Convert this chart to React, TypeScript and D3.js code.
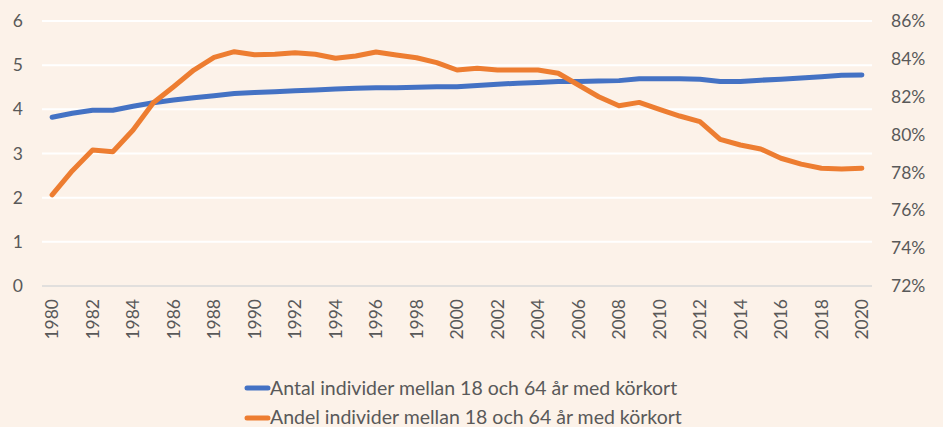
import React from "react";
import * as d3 from "d3";

const years: number[] = d3.range(1980, 2021);
const antal: number[] = [
  3.82, 3.91, 3.98, 3.98, 4.07, 4.15, 4.21, 4.26, 4.31, 4.36,
  4.38, 4.40, 4.42, 4.44, 4.46, 4.48, 4.49, 4.49, 4.50, 4.51,
  4.51, 4.54, 4.57, 4.59, 4.61, 4.63, 4.63, 4.64, 4.65, 4.69,
  4.69, 4.69, 4.68, 4.63, 4.63, 4.66, 4.68, 4.71, 4.74, 4.77, 4.78,
];
const andel: number[] = [
  76.81, 78.09, 79.18, 79.09, 80.24, 81.68, 82.53, 83.41, 84.08, 84.38,
  84.22, 84.24, 84.32, 84.24, 84.03, 84.15, 84.36, 84.20, 84.06, 83.80,
  83.41, 83.50, 83.41, 83.41, 83.41, 83.24, 82.62, 82.00, 81.52, 81.70,
  81.33, 80.98, 80.68, 79.75, 79.45, 79.24, 78.75, 78.44, 78.22, 78.18, 78.22,
];
const leftTicks: number[] = [0, 1, 2, 3, 4, 5, 6];
const rightTicks: number[] = [72, 74, 76, 78, 80, 82, 84, 86];
const seriesNames: string[] = [
  "Antal individer mellan 18 och 64 år med körkort",
  "Andel individer mellan 18 och 64 år med körkort",
];
const seriesColors: string[] = ["#4472C4", "#ED7D31"];

const W = 943;
const H = 427;
const FONT = "Lato, 'Open Sans', sans-serif";
const TEXT = "#595959";

export default function App() {
  const x = d3.scaleBand<number>().domain(years).range([42, 872]);
  const cx = (yr: number) => (x(yr) as number) + x.bandwidth() / 2;
  const yL = d3.scaleLinear().domain([0, 6]).range([286, 21]);
  const yR = d3.scaleLinear().domain([72, 86]).range([286, 21]);

  const lineL = d3
    .line<number>()
    .x((_, i) => cx(years[i]))
    .y((d) => yL(d));
  const lineR = d3
    .line<number>()
    .x((_, i) => cx(years[i]))
    .y((d) => yR(d));

  return (
    <svg
      width={W}
      height={H}
      style={{ position: "absolute", left: 0, top: 0, display: "block" }}
      fontFamily={FONT}
    >
      <rect x={0} y={0} width={W} height={H} fill="#FCF2E9" />
      {leftTicks.slice(1).map((t) => (
        <line
          key={t}
          x1={42}
          x2={872}
          y1={yL(t)}
          y2={yL(t)}
          stroke="#ffffff"
          strokeWidth={2}
        />
      ))}
      <line x1={42} x2={872} y1={yL(0)} y2={yL(0)} stroke="#D9D9D9" strokeWidth={1.5} />
      {leftTicks.map((t) => (
        <text
          key={t}
          x={23}
          y={yL(t)}
          dy="0.35em"
          textAnchor="end"
          fontSize={17.5}
          fill={TEXT}
        >
          {t}
        </text>
      ))}
      {rightTicks.map((t) => (
        <text
          key={t}
          x={891}
          y={yR(t)}
          dy="0.35em"
          textAnchor="start"
          fontSize={17.5}
          fill={TEXT}
        >
          {t + "%"}
        </text>
      ))}
      {years
        .filter((yr) => yr % 2 === 0)
        .map((yr) => (
          <text
            key={yr}
            transform={`translate(${cx(yr)},299) rotate(-90)`}
            dy="0.35em"
            textAnchor="end"
            fontSize={17.5}
            fill={TEXT}
          >
            {yr}
          </text>
        ))}
      <path
        d={lineL(antal) || ""}
        fill="none"
        stroke={seriesColors[0]}
        strokeWidth={5}
        strokeLinecap="round"
        strokeLinejoin="round"
      />
      <path
        d={lineR(andel) || ""}
        fill="none"
        stroke={seriesColors[1]}
        strokeWidth={5}
        strokeLinecap="round"
        strokeLinejoin="round"
      />
      {seriesNames.map((name, i) => (
        <g key={name}>
          <line
            x1={247}
            x2={268}
            y1={388 + i * 30}
            y2={388 + i * 30}
            stroke={seriesColors[i]}
            strokeWidth={5}
            strokeLinecap="round"
          />
          <text x={270} y={395 + i * 29} fontSize={19.5} fill={TEXT}>
            {name}
          </text>
        </g>
      ))}
    </svg>
  );
}
